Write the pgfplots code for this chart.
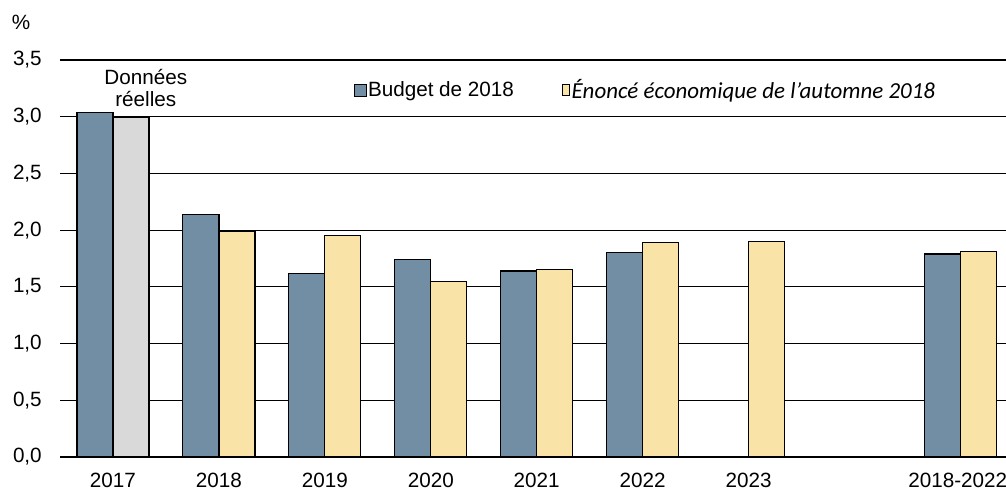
\documentclass[border=0pt]{standalone}
\usepackage{fontspec}
\setmainfont{Liberation Sans}
\newfontfamily\calibri{Carlito}
\usepackage{pgfplots}
\pgfplotsset{compat=1.18}
\definecolor{cblue}{HTML}{718EA4}
\definecolor{cyellow}{HTML}{FAE3A6}
\definecolor{cgray}{HTML}{D9D9D9}
\begin{document}
\begin{tikzpicture}
\begin{axis}[
  at={(0,0)}, anchor=south west,
  scale only axis,
  width=709.5pt, height=297.75pt,
  xmin=-0.5, xmax=8.43,
  ymin=0, ymax=3.5,
  clip=false,
  axis x line*=bottom,
  axis y line*=left,
  y axis line style={draw=none},
  x axis line style={line width=1.5pt, -},
  ytick={0,0.5,...,3.5},
  ymajorgrids,
  grid style={black, line width=0.9pt},
  xtick={0,1,2,3,4,5,6,8},
  xticklabels={2017,2018,2019,2020,2021,2022,2023,2018-2022\hspace*{4pt}},
  major tick length=0pt,
  tick style={draw=none},
  font=\fontsize{15.5}{18}\selectfont,
  tick label style={font=\fontsize{15.5}{18}\selectfont},
  /pgf/number format/.cd, assume math mode=true, use comma, fixed, fixed zerofill, precision=1,
  /pgfplots/.cd,
  yticklabel style={anchor=east, inner sep=0pt, xshift=-13.5pt},
  xticklabel style={anchor=north, inner sep=0pt, yshift=-12pt},
  bar width=0.34,
  legend columns=2,
  legend style={at={(axis description cs:0.3108,0.924)}, anchor=west, draw=none, fill=none, inner sep=0pt,
    nodes={inner sep=1pt, anchor=west},
    /tikz/every even column/.append style={column sep=0pt},
    /tikz/every odd column/.append style={column sep=0pt}},
  legend cell align=left,
]
\addplot[ybar, bar shift=-0.17, fill=cblue, draw=black, line width=0.9pt,
  legend image code/.code={\draw[fill=cblue, draw=black, line width=0.8pt] (0pt,-4.5pt) rectangle (8.5pt,4.5pt);}]
  coordinates {(0,3.04) (1,2.14) (2,1.62) (3,1.74) (4,1.64) (5,1.80) (8,1.79)};
\addlegendentry{Budget de 2018\hspace*{35pt}}
\addplot[ybar, bar shift=0.17, fill=cyellow, draw=black, line width=0.9pt,
  legend image code/.code={\draw[fill=cyellow, draw=black, line width=0.8pt] (1pt,-4pt) rectangle (6.5pt,4pt);}]
  coordinates {(1,1.99) (2,1.95) (3,1.55) (4,1.65) (5,1.89) (6,1.90) (8,1.81)};
\addlegendentry{{\calibri\itshape\fontsize{17.2}{20}\selectfont Énoncé économique de l’automne 2018}}
\addplot[ybar, bar shift=0.17, fill=cgray, draw=black, line width=0.9pt, forget plot]
  coordinates {(0,2.99)};
\node[align=center, font=\fontsize{15.5}{16.5}\selectfont] at (axis cs:0.31,3.25) {Données\\réelles};
\node[font=\fontsize{15.5}{18}\selectfont] at (axis description cs:-0.0412,1.0957) {\%};
\end{axis}
\pgfresetboundingbox
\path (-45pt,-25.5pt) rectangle (709.5pt,342.75pt);
\end{tikzpicture}
\end{document}
